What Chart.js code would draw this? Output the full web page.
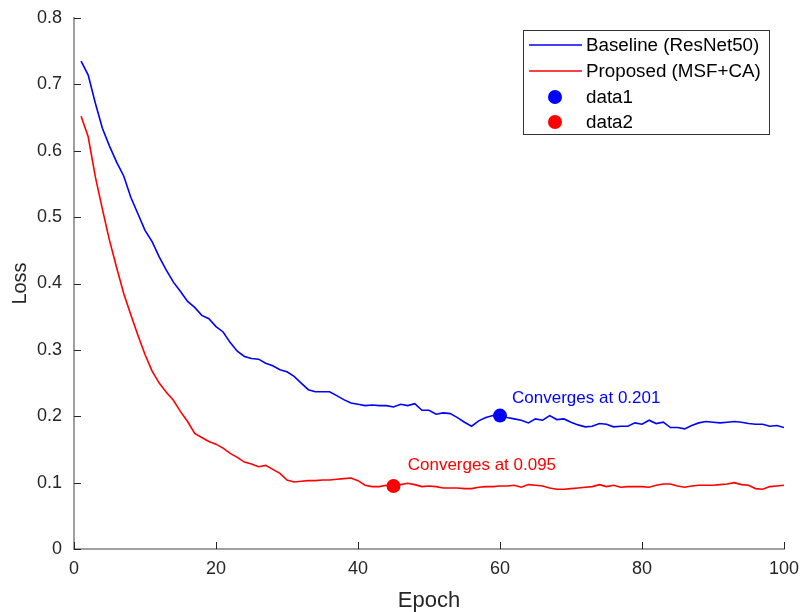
<!DOCTYPE html>
<html>
<head>
<meta charset="utf-8">
<title>Training loss</title>
<script src="https://cdn.jsdelivr.net/npm/chart.js@4.4.0/dist/chart.umd.min.js"></script>
<style>
  html, body { margin: 0; padding: 0; background: #fff; }
  #wrap { width: 802px; height: 612px; }
</style>
</head>
<body>
<div id="wrap"><canvas id="lossChart" width="802" height="612"></canvas></div>
<script>
// loss per epoch (epochs 1..100)
const baselineLoss = [
  0.735, 0.714, 0.672, 0.634, 0.607, 0.583, 0.562, 0.530, 0.505, 0.480,
  0.463, 0.440, 0.420, 0.402, 0.388, 0.373, 0.364, 0.352, 0.347, 0.335,
  0.327, 0.311, 0.298, 0.290, 0.287, 0.286, 0.280, 0.276, 0.270, 0.267,
  0.260, 0.250, 0.240, 0.237, 0.237, 0.237, 0.231, 0.225, 0.220, 0.218,
  0.216, 0.217, 0.216, 0.216, 0.214, 0.218, 0.216, 0.219, 0.209, 0.209,
  0.203, 0.205, 0.204, 0.198, 0.191, 0.185, 0.193, 0.198, 0.201, 0.202,
  0.198, 0.196, 0.194, 0.190, 0.196, 0.194, 0.201, 0.195, 0.196, 0.191,
  0.187, 0.184, 0.185, 0.189, 0.188, 0.184, 0.185, 0.185, 0.190, 0.188,
  0.194, 0.189, 0.191, 0.183, 0.183, 0.181, 0.186, 0.190, 0.192, 0.191,
  0.190, 0.191, 0.192, 0.191, 0.189, 0.188, 0.188, 0.185, 0.186, 0.183
];
const proposedLoss = [
  0.652, 0.621, 0.561, 0.512, 0.465, 0.424, 0.385, 0.353, 0.322, 0.293,
  0.268, 0.250, 0.236, 0.224, 0.207, 0.192, 0.174, 0.168, 0.162, 0.158,
  0.152, 0.144, 0.138, 0.131, 0.128, 0.124, 0.126, 0.120, 0.114, 0.104,
  0.101, 0.102, 0.103, 0.103, 0.104, 0.104, 0.105, 0.106, 0.107, 0.103,
  0.096, 0.094, 0.094, 0.096, 0.095, 0.097, 0.099, 0.097, 0.094, 0.095,
  0.094, 0.092, 0.092, 0.092, 0.091, 0.091, 0.093, 0.094, 0.094, 0.095,
  0.095, 0.096, 0.093, 0.097, 0.096, 0.095, 0.092, 0.090, 0.090, 0.091,
  0.092, 0.093, 0.094, 0.097, 0.094, 0.096, 0.093, 0.094, 0.094, 0.094,
  0.093, 0.096, 0.098, 0.098, 0.095, 0.093, 0.095, 0.096, 0.096, 0.096,
  0.097, 0.098, 0.100, 0.097, 0.096, 0.091, 0.090, 0.094, 0.095, 0.096
];
const epochs = baselineLoss.map((_, i) => i + 1);

const seriesNames = ['Baseline (ResNet50)', 'Proposed (MSF+CA)', 'data1', 'data2'];
const xTicks = [0, 20, 40, 60, 80, 100];
const yTicks = [0, 0.1, 0.2, 0.3, 0.4, 0.5, 0.6, 0.7, 0.8];

// convergence markers and their notes (epoch, loss)
const convergeBaseline = { x: 60, y: 0.201 };
const convergeProposed = { x: 45, y: 0.095 };
const noteTexts = ['Converges at 0.201', 'Converges at 0.095'];
const noteAnchors = [{ x: 61.7, y: 0.22 }, { x: 47.0, y: 0.119 }];

const BLUE = '#0000ff';
const RED = '#ff0000';
const FONT = '"Liberation Sans", Arial, Helvetica, sans-serif';
const INK = '#262626';

// inward tick marks, like MATLAB
const inwardTicks = {
    id: 'inwardTicks',
    afterDatasetsDraw(chart) {
        const { ctx, chartArea, scales } = chart;
        ctx.save();
        ctx.strokeStyle = INK;
        ctx.lineWidth = 1;
        ctx.beginPath();
        xTicks.forEach(v => {
            const px = Math.round(scales.x.getPixelForValue(v)) + 0.5;
            ctx.moveTo(px, chartArea.bottom);
            ctx.lineTo(px, chartArea.bottom - 7);
        });
        yTicks.forEach(v => {
            const py = Math.round(scales.y.getPixelForValue(v)) + 0.5;
            ctx.moveTo(chartArea.left, py);
            ctx.lineTo(chartArea.left + 7, py);
        });
        ctx.stroke();
        ctx.restore();
    }
};

// the two "Converges at" notes
const notes = {
    id: 'notes',
    afterDatasetsDraw(chart) {
        const { ctx, scales } = chart;
        ctx.save();
        ctx.font = '17px ' + FONT;
        ctx.textAlign = 'left';
        ctx.textBaseline = 'alphabetic';
        [BLUE, RED].forEach((c, i) => {
            ctx.fillStyle = c;
            ctx.fillText(noteTexts[i],
                scales.x.getPixelForValue(noteAnchors[i].x),
                scales.y.getPixelForValue(noteAnchors[i].y));
        });
        ctx.restore();
    }
};

// legend box in the top right corner
const boxLegend = {
    id: 'boxLegend',
    afterDraw(chart) {
        const ctx = chart.ctx;
        const left = 523.5, top = 30.5, w = 246, h = 104;
        const rows = [45, 71, 97, 122];
        const colors = [BLUE, RED, BLUE, RED];
        ctx.save();
        ctx.fillStyle = '#fff';
        ctx.fillRect(left, top, w, h);
        ctx.strokeStyle = '#333';
        ctx.lineWidth = 1;
        ctx.strokeRect(left, top, w, h);
        ctx.font = '18.8px ' + FONT;
        ctx.textBaseline = 'middle';
        rows.forEach((y, i) => {
            if (i < 2) {
                ctx.strokeStyle = colors[i];
                ctx.lineWidth = 1.5;
                ctx.beginPath();
                ctx.moveTo(529, y);
                ctx.lineTo(582, y);
                ctx.stroke();
            } else {
                ctx.fillStyle = colors[i];
                ctx.beginPath();
                ctx.arc(555, y, 7, 0, Math.PI * 2);
                ctx.fill();
            }
            ctx.fillStyle = '#000';
            ctx.fillText(seriesNames[i], 586, y + 1);
        });
        ctx.restore();
    }
};

const ctx = document.getElementById('lossChart').getContext('2d');
new Chart(ctx, {
    type: 'line',
    data: {
        datasets: [{
            label: seriesNames[0],
            data: epochs.map((e, i) => ({ x: e, y: baselineLoss[i] })),
            borderColor: BLUE,
            borderWidth: 1.6,
            pointRadius: 0,
            tension: 0
        }, {
            label: seriesNames[1],
            data: epochs.map((e, i) => ({ x: e, y: proposedLoss[i] })),
            borderColor: RED,
            borderWidth: 1.6,
            pointRadius: 0,
            tension: 0
        }, {
            label: seriesNames[2],
            type: 'scatter',
            data: [convergeBaseline],
            backgroundColor: BLUE,
            borderWidth: 0,
            pointRadius: 7
        }, {
            label: seriesNames[3],
            type: 'scatter',
            data: [convergeProposed],
            backgroundColor: RED,
            borderWidth: 0,
            pointRadius: 7
        }]
    },
    options: {
        responsive: false,
        animation: false,
        devicePixelRatio: 1,
        layout: { padding: { top: 18, right: 18, left: 0, bottom: 0 } },
        plugins: {
            legend: { display: false },
            tooltip: { enabled: false }
        },
        scales: {
            x: {
                type: 'linear',
                min: 0,
                max: 100,
                afterBuildTicks: s => { s.ticks = xTicks.map(v => ({ value: v })); },
                afterFit: s => { s.height = 63; s.paddingLeft = 0; s.paddingRight = 0; },
                grid: { display: false, drawTicks: false },
                border: { display: true, color: '#a0a0a0', width: 2 },
                ticks: { color: INK, font: { family: FONT, size: 18 }, padding: 9, maxRotation: 0 },
                title: {
                    display: true, text: 'Epoch', color: INK,
                    font: { family: FONT, size: 22, lineHeight: 1 },
                    padding: { top: 0, bottom: 0 }
                }
            },
            y: {
                min: 0,
                max: 0.8,
                afterBuildTicks: s => { s.ticks = yTicks.map(v => ({ value: v })); },
                afterFit: s => { s.width = 74; s.paddingTop = 0; s.paddingBottom = 0; },
                grid: { display: false, drawTicks: false },
                border: { display: true, color: '#a0a0a0', width: 2 },
                ticks: { color: INK, font: { family: FONT, size: 18 }, padding: 12 },
                title: {
                    display: true, text: 'Loss', color: INK,
                    font: { family: FONT, size: 20, lineHeight: 1.2 },
                    padding: { top: 8, bottom: 0 }
                }
            }
        }
    },
    plugins: [inwardTicks, notes, boxLegend]
});
</script>
</body>
</html>
